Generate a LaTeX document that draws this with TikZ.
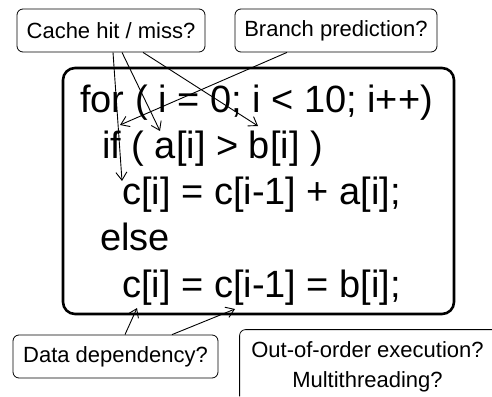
\documentclass[tikz,border=0pt]{standalone}
\usepackage{fontspec}
\setmainfont{Liberation Sans}
\usetikzlibrary{arrows.meta}

\begin{document}
\begin{tikzpicture}[x=1pt,y=-1pt,>={Straight Barb[length=8pt,width=11pt]},
  note/.style={draw,rounded corners=6pt,line width=0.8pt,inner sep=0pt,
    font=\fontsize{22}{30}\selectfont,align=center,minimum height=43pt},
  code/.style={anchor=base west,inner sep=0pt,font=\fontsize{38}{46}\selectfont},
  hint/.style={->,line width=0.9pt}]
  \useasboundingbox (0,0) rectangle (492,396);

  % the loop
  \node[draw,rounded corners=12pt,line width=2.6pt,minimum width=391pt,
        minimum height=246pt] (loopbox) at (258.5,191) {};
  \node[code] (l1) at (80,112)  {for ( i = 0; i < 10; i++)};
  \node[code] (l2) at (102,158) {if ( a[i] > b[i] )};
  \node[code] (l3) at (122,204) {c[i] = c[i-1] + a[i];};
  \node[code] (l4) at (100,250) {else};
  \node[code] (l5) at (122,297) {c[i] = c[i-1] = b[i];};

  % questions
  \node[note,minimum width=188pt] (cache)  at (111,30.5)    {Cache hit / miss?};
  \node[note,minimum width=202pt] (branch) at (336,30.5)    {Branch prediction?};
  \node[note,minimum width=205pt] (data)   at (115.5,356.5) {Data dependency?};
  \node[note,draw=none,minimum width=255pt,minimum height=74pt] (ooo) at (367.5,367)
    {Out-of-order execution?\\Multithreading?};
  % this one runs off the page
  \draw[rounded corners=6pt,line width=0.8pt]
    ([yshift=8]ooo.south west) |- ([xshift=-3]ooo.north east);

  % where they point
  \coordinate (cfirst) at (122,181);
  \coordinate (afirst) at (160,131);
  \coordinate (bfirst) at (258,126);
  \coordinate (iftest) at (120,125);
  \coordinate (clast)  at (137,308);
  \coordinate (cprev)  at (235,309);

  \draw[hint] ([xshift=2]cache.south)  -- (cfirst);
  \draw[hint] ([xshift=11]cache.south) -- (afirst);
  \draw[hint] ([xshift=32]cache.south) -- (bfirst);
  \draw[hint] ([xshift=-49]branch.south) -- (iftest);
  \draw[hint] ([xshift=9.5]data.north)  -- (clast);
  \draw[hint] ([xshift=56.5]data.north) -- (cprev);
\end{tikzpicture}
\end{document}
